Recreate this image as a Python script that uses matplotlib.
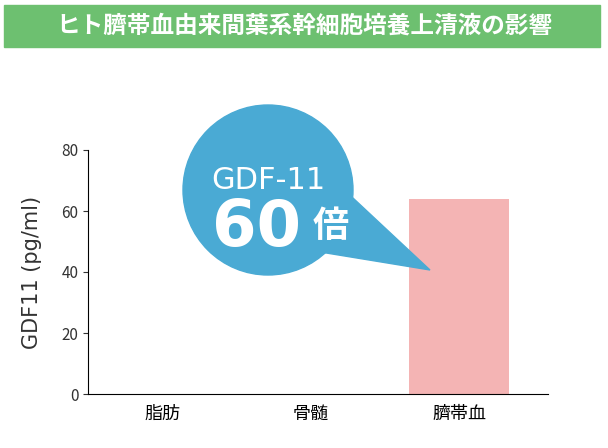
import matplotlib
matplotlib.use("Agg")
import matplotlib.pyplot as plt
from matplotlib.patches import Circle, Polygon, Rectangle
from matplotlib.transforms import IdentityTransform

plt.rcParams["font.family"] = ["Noto Sans CJK JP", "DejaVu Sans"]

categories = ["脂肪", "骨髄", "臍帯血"]
values = [0, 0, 64]
yticks = [0, 20, 40, 60, 80]
title = "ヒト臍帯血由来間葉系幹細胞培養上清液の影響"

fig = plt.figure(figsize=(6.08, 4.48), dpi=100)
W, H = 608, 448
ax = fig.add_axes([88/W, (H-394)/H, (548-88)/W, (394-150)/H])
ax.bar(range(len(categories)), values, width=0.68, color="#f4b4b4")
ax.set_xlim(-0.5, 2.6)
ax.set_ylim(0, 80)
ax.set_yticks(yticks)
ax.set_xticks(range(len(categories)))
ax.set_xticklabels(categories, fontsize=13)
ax.tick_params(axis="y", labelsize=11, direction="out", colors="#333333")
ax.tick_params(axis="x", length=0, pad=8)
for s in ["top", "right"]:
    ax.spines[s].set_visible(False)
ax.set_ylabel("GDF11 (pg/ml)", fontsize=15, family="DejaVu Sans", color="#333333",
              labelpad=14)

# banner
fig.patches.append(Rectangle((4/W, (H-47)/H), 596/W, 42/H, transform=fig.transFigure,
                             color="#6dc070", zorder=0))
fig.text(0.5, (H-26)/H, title, ha="center", va="center", color="white",
         fontsize=17, fontweight="bold")

# bubble
tr = IdentityTransform()
cx, cy, r = 268, H-190, 85
fig.patches.append(Polygon([(cx+55, cy+20), (430, H-270), (cx+40, cy-60)],
                           closed=True, transform=tr, color="#4aaad4", zorder=5))
fig.patches.append(Circle((cx, cy), r, transform=tr, color="#4aaad4", zorder=5))
fig.text(cx/W, (H-180)/H, "GDF-11", ha="center", va="center", color="white",
         fontsize=22, family="DejaVu Sans", zorder=6)
fig.text((cx-12)/W, (H-228)/H, "60", ha="center", va="center", color="white",
         fontsize=46, fontweight="bold", family="DejaVu Sans", zorder=6)
fig.text((cx+63)/W, (H-226)/H, "倍", ha="center", va="center", color="white",
         fontsize=26, fontweight="bold", zorder=6)

fig.savefig("out.png", dpi=100)
